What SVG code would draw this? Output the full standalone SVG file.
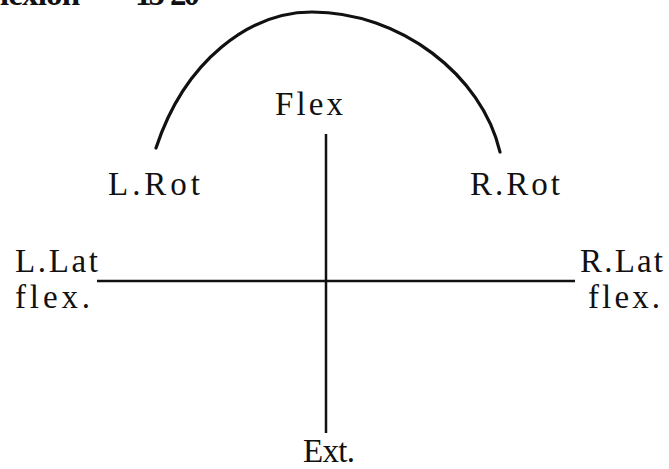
<svg xmlns="http://www.w3.org/2000/svg" width="669" height="469" viewBox="0 0 669 469">
<style>
text{font-family:"Liberation Serif","Times New Roman",serif;font-size:33px;fill:#111}
.ln{stroke:#111;stroke-width:2.5;fill:none}
.arc{stroke:#111;stroke-width:3.2;fill:none;stroke-linecap:round}
</style>
<rect width="669" height="469" fill="#fff"/>
<g id="header">
<text x="0" y="5" font-weight="bold" textLength="80" lengthAdjust="spacing">lexion</text>
<text x="135" y="5" font-weight="bold" textLength="65" lengthAdjust="spacing">15-20</text>
</g>
<g id="connectors">
<line class="ln" x1="326" y1="134" x2="326" y2="433"/>
<line class="ln" x1="97" y1="281" x2="575" y2="281"/>
<path class="arc" d="M156,148 C185,60 250,12 312,12 C400,12 482,75 500,152"/>
</g>
<g id="flex"><text x="275" y="115" textLength="68" lengthAdjust="spacing">Flex</text></g>
<g id="lrot"><text x="108" y="195" textLength="92" lengthAdjust="spacing">L.Rot</text></g>
<g id="rrot"><text x="470" y="195" textLength="90" lengthAdjust="spacing">R.Rot</text></g>
<g id="llat"><text x="15" y="272" textLength="83" lengthAdjust="spacing">L.Lat</text><text x="15" y="308" textLength="75" lengthAdjust="spacing">flex.</text></g>
<g id="rlat"><text x="580" y="272" textLength="83" lengthAdjust="spacing">R.Lat</text><text x="588" y="308" textLength="72" lengthAdjust="spacing">flex.</text></g>
<g id="ext"><text x="303" y="462" textLength="52" lengthAdjust="spacing">Ext.</text></g>
</svg>
